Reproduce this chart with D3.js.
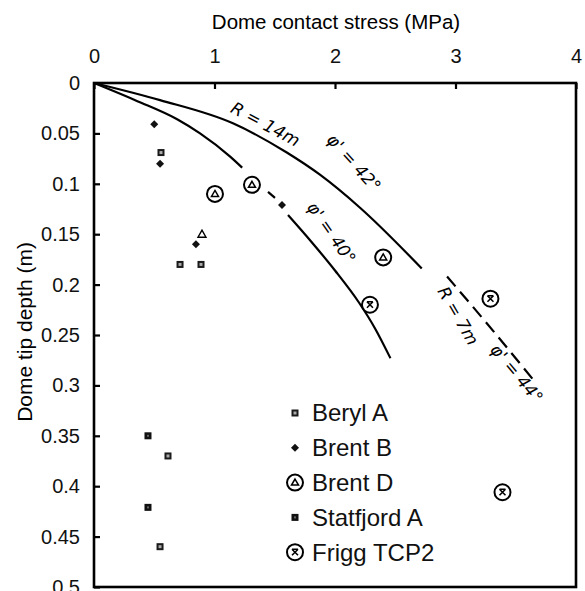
<!DOCTYPE html>
<html>
<head>
<meta charset="utf-8">
<script src="https://cdn.jsdelivr.net/npm/d3@7"></script>
<style>
  body { margin: 0; background: #fff; }
  svg { display: block; }
</style>
</head>
<body>
<svg></svg>
<script>
// valores
var xTicks = [0, 1, 2, 3, 4];
var yTicks = [0, 0.05, 0.1, 0.15, 0.2, 0.25, 0.3, 0.35, 0.4, 0.45, 0.5];

var berylA = [[0.556, 0.069], [0.714, 0.180], [0.888, 0.180], [0.614, 0.370], [0.548, 0.460]];
var brentB = [[0.50, 0.041], [0.548, 0.080], [0.846, 0.160], [1.56, 0.121]];
var brentD = [[1.004, 0.110], [1.311, 0.101], [2.40, 0.173]];
var brentDSmall = [[0.896, 0.150]];
var statfjordA = [[0.448, 0.350], [0.448, 0.421]];
var friggTCP2 = [[2.29, 0.220], [3.29, 0.214], [3.39, 0.406]];

// curvas teoricas
var curve42 = [[0, 0], [0.548, 0.017], [1.153, 0.040], [1.60, 0.069],
               [1.875, 0.091], [2.21, 0.124], [2.72, 0.184]];
var curve40a = [[0, 0], [0.36, 0.018], [0.69, 0.036], [0.88, 0.050],
                [1.13, 0.073], [1.23, 0.084]];
var curve40dash = [[1.444, 0.108], [1.502, 0.114]];
var curve40b = [[1.61, 0.131], [1.80, 0.157], [2.00, 0.186], [2.20, 0.218], [2.33, 0.243], [2.46, 0.273]];
var curve44 = [[2.93, 0.192], [3.25, 0.237], [3.67, 0.298]];

var legendNames = ["Beryl A", "Brent B", "Brent D", "Statfjord A", "Frigg TCP2"];

var notes = [
  { text: "R = 14m", x: 1.40, y: 0.046, angle: 28 },
  { text: "φ' = 42°", x: 2.12, y: 0.083, angle: 48 },
  { text: "φ' = 40°", x: 1.93, y: 0.152, angle: 55 },
  { text: "R = 7m", x: 2.98, y: 0.234, angle: 60 },
  { text: "φ' = 44°", x: 3.47, y: 0.292, angle: 50 }
];

var width = 585, height = 591;
var svg = d3.select("svg")
    .attr("width", width)
    .attr("height", height)
    .attr("font-family", "Liberation Sans, Arial, sans-serif");

var x = d3.scaleLinear().domain([0, 4]).range([94, 576]);
var y = d3.scaleLinear().domain([0, 0.5]).range([83, 587]);

// ejes: arriba y a la izquierda, ticks hacia dentro
var xAxis = svg.append("g")
    .attr("transform", "translate(0," + y(0) + ")")
    .call(d3.axisTop(x).tickValues(xTicks).tickSize(-6).tickPadding(20).tickFormat(d3.format("d")));
var yAxis = svg.append("g")
    .attr("transform", "translate(" + x(0) + ",0)")
    .call(d3.axisLeft(y).tickValues(yTicks).tickSize(-6).tickPadding(14).tickFormat(function(d) { return d === 0 ? "0" : d3.format("")(d); }));

[xAxis, yAxis].forEach(function(a) {
  a.select(".domain").remove();
  a.selectAll("line").attr("stroke", "#000").attr("stroke-width", 2.2);
  a.selectAll("text").attr("font-size", 20).attr("fill", "#111");
});

// marco
svg.append("rect")
    .attr("x", x(0)).attr("y", y(0))
    .attr("width", x(4) - x(0)).attr("height", y(0.5) - y(0))
    .attr("fill", "none").attr("stroke", "#000").attr("stroke-width", 2.6);

svg.append("text")
    .attr("x", 336).attr("y", 29)
    .attr("text-anchor", "middle")
    .attr("font-size", 20.5)
    .text("Dome contact stress (MPa)");

svg.append("text")
    .attr("transform", "translate(32,332) rotate(-90)")
    .attr("text-anchor", "middle")
    .attr("font-size", 21)
    .text("Dome tip depth (m)");

var line = d3.line()
    .x(function(d) { return x(d[0]); })
    .y(function(d) { return y(d[1]); })
    .curve(d3.curveMonotoneX);

[curve42, curve40a, curve40dash, curve40b].forEach(function(c) {
  svg.append("path").datum(c)
      .attr("d", line)
      .attr("fill", "none").attr("stroke", "#000").attr("stroke-width", 2.2);
});
svg.append("path").datum(curve44)
    .attr("d", line)
    .attr("fill", "none").attr("stroke", "#000").attr("stroke-width", 2.2)
    .attr("stroke-dasharray", "13,7");

// anotaciones manuscritas
svg.selectAll(".note")
  .data(notes)
  .enter().append("text")
    .attr("class", "note")
    .attr("transform", function(d) { return "translate(" + x(d.x) + "," + y(d.y) + ") rotate(" + d.angle + ")"; })
    .attr("text-anchor", "middle")
    .attr("font-family", "DejaVu Sans")
    .attr("font-style", "italic")
    .attr("font-size", 17)
    .text(function(d) { return d.text; });

// simbolos
function drawMarker(g, kind) {
  if (kind === "beryl") {
    g.append("rect").attr("x", -3.5).attr("y", -3.5).attr("width", 7).attr("height", 7)
        .attr("fill", "#1a1a1a");
    g.append("rect").attr("x", -1.5).attr("y", -1.5).attr("width", 3).attr("height", 3)
        .attr("fill", "#aaa");
  } else if (kind === "brentB") {
    g.append("path").attr("d", "M0,-4L4,0L0,4L-4,0Z").attr("fill", "#111");
  } else if (kind === "brentD") {
    g.append("circle").attr("r", 8).attr("fill", "#fff").attr("stroke", "#000").attr("stroke-width", 2);
    g.append("path").attr("d", "M0,-3.5L3.5,2.5L-3.5,2.5Z").attr("fill", "none").attr("stroke", "#000").attr("stroke-width", 1.5);
  } else if (kind === "triSmall") {
    g.append("path").attr("d", "M0,-4L4,3L-4,3Z").attr("fill", "none").attr("stroke", "#000").attr("stroke-width", 1.4);
  } else if (kind === "statfjord") {
    g.append("rect").attr("x", -3.5).attr("y", -3.5).attr("width", 7).attr("height", 7)
        .attr("fill", "#111");
    g.append("rect").attr("x", -1).attr("y", -1).attr("width", 2).attr("height", 2)
        .attr("fill", "#666");
  } else if (kind === "frigg") {
    g.append("circle").attr("r", 8).attr("fill", "#fff").attr("stroke", "#000").attr("stroke-width", 2);
    g.append("path").attr("d", "M-3,-3L3,3M3,-3L-3,3M-3,-3L3,-3").attr("stroke", "#000").attr("stroke-width", 1.6);
  }
}

var series = [
  { data: berylA, kind: "beryl" },
  { data: brentB, kind: "brentB" },
  { data: brentD, kind: "brentD" },
  { data: brentDSmall, kind: "triSmall" },
  { data: statfjordA, kind: "statfjord" },
  { data: friggTCP2, kind: "frigg" }
];

series.forEach(function(s) {
  svg.selectAll(".pt-" + s.kind)
    .data(s.data)
    .enter().append("g")
      .attr("class", "pt-" + s.kind)
      .attr("transform", function(d) { return "translate(" + x(d[0]) + "," + y(d[1]) + ")"; })
      .each(function() { drawMarker(d3.select(this), s.kind); });
});

// leyenda
var legendKinds = ["beryl", "brentB", "brentD", "statfjord", "frigg"];
var legend = svg.selectAll(".legend")
  .data(legendNames)
  .enter().append("g")
    .attr("class", "legend")
    .attr("transform", function(d, i) { return "translate(295," + (413 + i * 34.8) + ")"; });

legend.each(function(d, i) { drawMarker(d3.select(this), legendKinds[i]); });
legend.append("text")
    .attr("x", 17)
    .attr("dy", "0.35em")
    .attr("font-size", 24)
    .attr("fill", "#111")
    .text(function(d) { return d; });
</script>
</body>
</html>
